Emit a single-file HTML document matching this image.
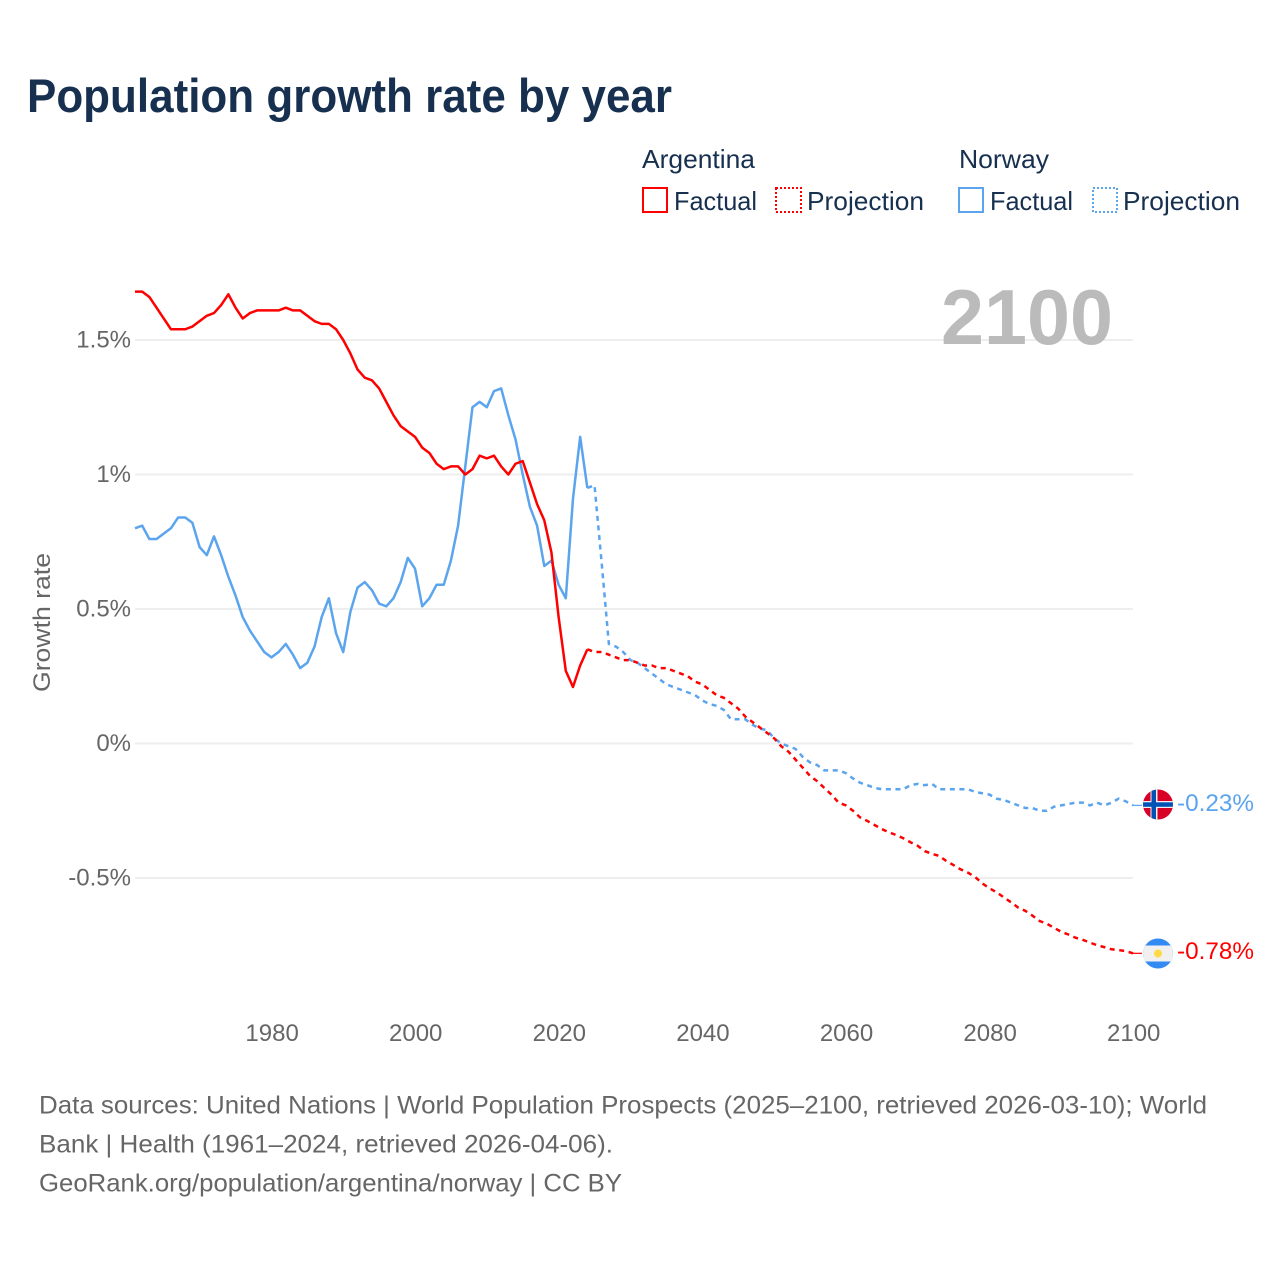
<!DOCTYPE html>
<html lang="en">
<head>
<meta charset="utf-8">
<title>Population growth rate by year</title>
<style>
  html, body { margin: 0; padding: 0; background: #fff; }
  svg { display: block; font-family: "Liberation Sans", sans-serif; }
</style>
</head>
<body>
<svg id="chart" xmlns="http://www.w3.org/2000/svg" width="1280" height="1280" viewBox="0 0 1280 1280">
  <rect x="0" y="0" width="1280" height="1280" fill="#ffffff"/>
  <text x="27" y="112" font-size="47" font-weight="700" fill="#17304f" textLength="645" lengthAdjust="spacingAndGlyphs">Population growth rate by year</text>

  <g font-size="26" fill="#17304f">
    <text x="642" y="168" textLength="113" lengthAdjust="spacingAndGlyphs">Argentina</text>
    <text x="959" y="168" textLength="90" lengthAdjust="spacingAndGlyphs">Norway</text>
    <rect x="643" y="188" width="24" height="24" fill="none" stroke="#ff0000" stroke-width="2"/>
    <text x="674" y="210" textLength="83" lengthAdjust="spacingAndGlyphs">Factual</text>
    <rect x="776" y="188" width="25" height="24" fill="none" stroke="#ff0000" stroke-width="2" stroke-dasharray="2 2"/>
    <text x="807" y="210" textLength="117" lengthAdjust="spacingAndGlyphs">Projection</text>
    <rect x="959" y="188" width="24" height="24" fill="none" stroke="#5ba4ee" stroke-width="2"/>
    <text x="990" y="210" textLength="83" lengthAdjust="spacingAndGlyphs">Factual</text>
    <rect x="1093" y="188" width="24" height="24" fill="none" stroke="#5ba4ee" stroke-width="2" stroke-dasharray="2 2"/>
    <text x="1123" y="210" textLength="117" lengthAdjust="spacingAndGlyphs">Projection</text>
  </g>

  <g id="grid"></g>
  <text x="941" y="344" font-size="78" font-weight="700" fill="#bbbbbb" textLength="172" lengthAdjust="spacingAndGlyphs">2100</text>
  <g id="y-ticks" font-size="24" fill="#666666" text-anchor="end"></g>
  <g id="x-ticks" font-size="24" fill="#666666" text-anchor="middle"></g>
  <text transform="translate(50,692) rotate(-90)" font-size="24" fill="#666666" textLength="139" lengthAdjust="spacingAndGlyphs">Growth rate</text>
  <g id="series"></g>

  <defs>
    <clipPath id="norway-clip"><circle cx="1158" cy="804.5" r="15"/></clipPath>
    <clipPath id="argentina-clip"><circle cx="1158" cy="953.5" r="15"/></clipPath>
  </defs>
  <g clip-path="url(#norway-clip)">
    <rect x="1143" y="789.5" width="30" height="30" fill="#d80027"/>
    <rect x="1150.5" y="789.5" width="7" height="30" fill="#f0f0f0"/>
    <rect x="1143" y="801" width="30" height="7" fill="#f0f0f0"/>
    <rect x="1151.5" y="789.5" width="4.5" height="30" fill="#0052b4"/>
    <rect x="1143" y="802.3" width="30" height="4.5" fill="#0052b4"/>
  </g>
  <g clip-path="url(#argentina-clip)">
    <rect x="1143" y="938.5" width="30" height="30" fill="#338af3"/>
    <rect x="1143" y="945.5" width="30" height="16" fill="#f0f0f0"/>
    <circle cx="1158" cy="953.5" r="4" fill="#ffda44"/>
  </g>
  <text x="1177" y="811" font-size="24" fill="#5ba4ee" textLength="77" lengthAdjust="spacingAndGlyphs">-0.23%</text>
  <text x="1177" y="959" font-size="24" fill="#ff0000" textLength="77" lengthAdjust="spacingAndGlyphs">-0.78%</text>

  <g font-size="25" fill="#666666">
    <text x="39" y="1113.5" textLength="1168" lengthAdjust="spacingAndGlyphs">Data sources: United Nations | World Population Prospects (2025–2100, retrieved 2026-03-10); World</text>
    <text x="39" y="1152.5" textLength="574" lengthAdjust="spacingAndGlyphs">Bank | Health (1961–2024, retrieved 2026-04-06).</text>
    <text x="39" y="1191.5" textLength="583" lengthAdjust="spacingAndGlyphs">GeoRank.org/population/argentina/norway | CC BY</text>
  </g>
</svg>

<script>
const factualStartYear = 1961;
const projectionStartYear = 2025;

const xTickYears = [1980, 2000, 2020, 2040, 2060, 2080, 2100];
const yTickValues = [1.5, 1, 0.5, 0, -0.5];
const yTickLabels = ["1.5%", "1%", "0.5%", "0%", "-0.5%"];

// 1961–2024
const argentinaFactual = [
  1.68, 1.68, 1.66, 1.62, 1.58, 1.54, 1.54, 1.54, 1.55,
  1.57, 1.59, 1.60, 1.63, 1.67, 1.62, 1.58, 1.60, 1.61, 1.61,
  1.61, 1.61, 1.62, 1.61, 1.61, 1.59, 1.57, 1.56, 1.56, 1.54,
  1.50, 1.45, 1.39, 1.36, 1.35, 1.32, 1.27, 1.22, 1.18, 1.16,
  1.14, 1.10, 1.08, 1.04, 1.02, 1.03, 1.03, 1.00, 1.02, 1.07,
  1.06, 1.07, 1.03, 1.00, 1.04, 1.05, 0.97, 0.89, 0.83, 0.71,
  0.47, 0.27, 0.21, 0.29, 0.35
];
const norwayFactual = [
  0.80, 0.81, 0.76, 0.76, 0.78, 0.80, 0.84, 0.84, 0.82,
  0.73, 0.70, 0.77, 0.70, 0.62, 0.55, 0.47, 0.42, 0.38, 0.34,
  0.32, 0.34, 0.37, 0.33, 0.28, 0.30, 0.36, 0.47, 0.54, 0.41,
  0.34, 0.49, 0.58, 0.60, 0.57, 0.52, 0.51, 0.54, 0.60, 0.69,
  0.65, 0.51, 0.54, 0.59, 0.59, 0.68, 0.81, 1.03, 1.25, 1.27,
  1.25, 1.31, 1.32, 1.22, 1.13, 1.00, 0.88, 0.81, 0.66, 0.68,
  0.59, 0.54, 0.91, 1.14, 0.95
];
// 2025–2100
const argentinaProjection = [
  0.34, 0.34, 0.33, 0.32, 0.31,
  0.31, 0.30, 0.29, 0.29, 0.28, 0.28, 0.27, 0.26, 0.25, 0.23,
  0.22, 0.20, 0.18, 0.17, 0.15, 0.13, 0.10, 0.08, 0.06, 0.04,
  0.02, -0.01, -0.03, -0.06, -0.09, -0.12, -0.14, -0.165, -0.19, -0.22,
  -0.23, -0.25, -0.275, -0.288, -0.303, -0.318, -0.33, -0.34, -0.352, -0.367,
  -0.38, -0.40, -0.41, -0.418, -0.437, -0.452, -0.468, -0.48, -0.496, -0.52,
  -0.538, -0.553, -0.572, -0.59, -0.61, -0.622, -0.64, -0.66, -0.67, -0.685,
  -0.70, -0.71, -0.722, -0.73, -0.74, -0.75, -0.757, -0.765, -0.768, -0.772,
  -0.78
];
const norwayProjection = [
  0.96, 0.67, 0.37, 0.36, 0.34,
  0.31, 0.30, 0.28, 0.26, 0.24, 0.22, 0.21, 0.20, 0.19, 0.18,
  0.16, 0.147, 0.14, 0.125, 0.09, 0.09, 0.09, 0.07, 0.055, 0.05,
  0.02, 0.00, -0.01, -0.02, -0.05, -0.07, -0.08, -0.10, -0.10, -0.10,
  -0.11, -0.13, -0.146, -0.155, -0.165, -0.17, -0.17, -0.17, -0.17, -0.155,
  -0.15, -0.155, -0.15, -0.17, -0.17, -0.17, -0.17, -0.17, -0.18, -0.185,
  -0.19, -0.205, -0.21, -0.22, -0.23, -0.24, -0.24, -0.25, -0.25, -0.235,
  -0.23, -0.225, -0.22, -0.22, -0.23, -0.22, -0.23, -0.22, -0.205, -0.215,
  -0.23
];

const SVG_NS = "http://www.w3.org/2000/svg";
function xScale(year) { return 135 + (year - 1961) * 7.18; }
function yScale(value) { return 743.5 - value * 269; }

const gridGroup = document.getElementById("grid");
const yTickGroup = document.getElementById("y-ticks");
const xTickGroup = document.getElementById("x-ticks");
const seriesGroup = document.getElementById("series");

yTickValues.forEach(function (value, i) {
  const line = document.createElementNS(SVG_NS, "line");
  line.setAttribute("x1", 135);
  line.setAttribute("x2", 1133);
  line.setAttribute("y1", yScale(value));
  line.setAttribute("y2", yScale(value));
  line.setAttribute("stroke", "#eeeeee");
  line.setAttribute("stroke-width", 2);
  
  
  gridGroup.appendChild(line);

  const label = document.createElementNS(SVG_NS, "text");
  label.setAttribute("x", 131);
  label.setAttribute("y", yScale(value) + 7.5);
  label.textContent = yTickLabels[i];
  
  
  yTickGroup.appendChild(label);
});

xTickYears.forEach(function (year) {
  const label = document.createElementNS(SVG_NS, "text");
  label.setAttribute("x", xScale(year) + 0.7);
  label.setAttribute("y", 1041);
  label.textContent = year;
  
  
  xTickGroup.appendChild(label);
});

function linePoints(startYear, values) {
  return values.map(function (value, i) {
    return xScale(startYear + i).toFixed(2) + "," + yScale(value).toFixed(2);
  }).join(" ");
}

function addFactual(values, color, name) {
  const line = document.createElementNS(SVG_NS, "polyline");
  line.setAttribute("points", linePoints(factualStartYear, values));
  line.setAttribute("fill", "none");
  line.setAttribute("stroke", color);
  line.setAttribute("stroke-width", 2.5);
  line.setAttribute("stroke-linejoin", "round");
  
  
  seriesGroup.appendChild(line);
}

function addProjection(lastFactual, values, color, name) {
  const line = document.createElementNS(SVG_NS, "polyline");
  const joined = [lastFactual].concat(values);
  line.setAttribute("points", linePoints(projectionStartYear - 1, joined));
  line.setAttribute("fill", "none");
  line.setAttribute("stroke", color);
  line.setAttribute("stroke-width", 2.5);
  line.setAttribute("stroke-dasharray", "5 4.6");
  
  
  seriesGroup.appendChild(line);
}

function addConnector(value, color, name) {
  const line = document.createElementNS(SVG_NS, "line");
  line.setAttribute("x1", xScale(2100));
  line.setAttribute("x2", 1142);
  line.setAttribute("y1", yScale(value));
  line.setAttribute("y2", yScale(value));
  line.setAttribute("stroke", color);
  line.setAttribute("stroke-width", 1.2);
  
  
  seriesGroup.appendChild(line);
}

addFactual(norwayFactual, "#5ba4ee", "norway-factual-line");
addProjection(norwayFactual[norwayFactual.length - 1], norwayProjection, "#5ba4ee", "norway-projection-line");
addConnector(norwayProjection[norwayProjection.length - 1], "#5ba4ee", "norway-label-connector");
addFactual(argentinaFactual, "#ff0000", "argentina-factual-line");
addProjection(argentinaFactual[argentinaFactual.length - 1], argentinaProjection, "#ff0000", "argentina-projection-line");
addConnector(argentinaProjection[argentinaProjection.length - 1], "#ff0000", "argentina-label-connector");
</script>
</body>
</html>
